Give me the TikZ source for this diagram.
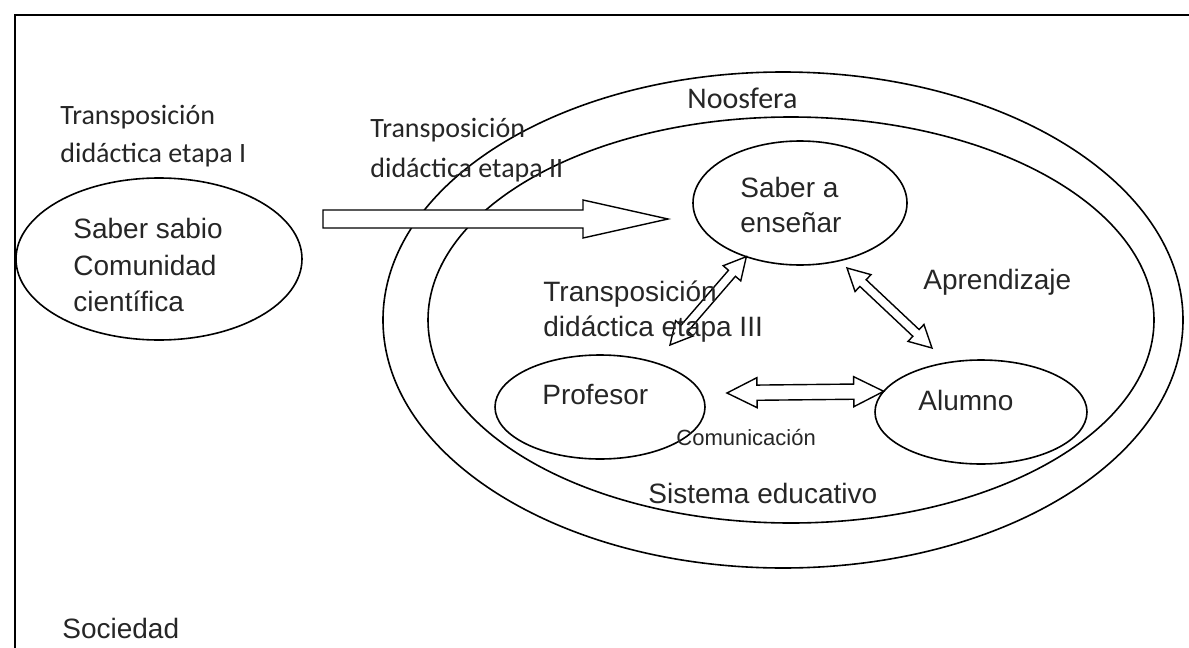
\documentclass[tikz,border=0pt]{standalone}
\usepackage{fontspec}
\setmainfont{Liberation Sans}
\newfontfamily\calibri{Carlito}
\usetikzlibrary{calc,shapes.geometric}
\tikzset{
  oval/.style={draw, ellipse, line width=0.8pt, inner sep=0pt, outer sep=0pt},
  lbl/.style={anchor=west, inner sep=0pt, align=left, text=black!85,
    font=\fontsize{14}{17.5}\selectfont},
  clbl/.style={anchor=west, inner sep=0pt, align=left, text=black!85,
    font=\calibri\fontsize{14}{19}\selectfont},
  blk/.style={draw, line width=0.7pt, line join=miter}
}
% block arrow: tail, tip, half body, half head, head length
\newcommand{\bigarrow}[5]{%
  \coordinate (hb) at ($(#2)!#5!(#1)$);
  \draw[blk, fill=white] ($(#1)!#3!90:(#2)$) -- ($(hb)!#3!90:(#2)$) -- ($(hb)!#4!90:(#2)$)
    -- (#2) -- ($(hb)!#4!-90:(#2)$) -- ($(hb)!#3!-90:(#2)$) -- ($(#1)!#3!-90:(#2)$) -- cycle;}
% two-way block arrow: end, end, half body, half head, head length
\newcommand{\twowayarrow}[5]{%
  \coordinate (ha) at ($(#1)!#5!(#2)$);
  \coordinate (hb) at ($(#2)!#5!(#1)$);
  \draw[blk] (#1) -- ($(ha)!#4!-90:(#1)$) -- ($(ha)!#3!-90:(#1)$) -- ($(hb)!#3!90:(#2)$)
    -- ($(hb)!#4!90:(#2)$) -- (#2) -- ($(hb)!#4!-90:(#2)$) -- ($(hb)!#3!-90:(#2)$)
    -- ($(ha)!#3!90:(#1)$) -- ($(ha)!#4!90:(#1)$) -- cycle;}

\begin{document}
\begin{tikzpicture}[x=0.5pt, y=-0.5pt]
  \useasboundingbox (0,0) rectangle (1189,648);
  \draw[line width=0.8pt] (1189,15) -- (15,15) -- (15,648);

  % noosfera and sistema educativo
  \node[oval, minimum width=800pt/2, minimum height=496pt/2] (noos) at (783,320) {};
  \node[oval, minimum width=726pt/2, minimum height=406pt/2] (sist) at (791,320) {};

  \node[oval, minimum width=143pt, minimum height=81pt] (sabio) at (159,259) {};
  \node[oval, minimum width=107pt, minimum height=62pt] (ense) at (800,203) {};
  \node[oval, minimum width=105pt, minimum height=52pt] (prof) at (600,407) {};
  \node[oval, minimum width=106pt, minimum height=52pt] (alum) at (981,412) {};

  \coordinate (IIa) at (323,219);
  \coordinate (IIb) at (668,219);
  \bigarrow{IIa}{IIb}{4.5pt}{9.5pt}{42.5pt}

  \coordinate (IIIb) at (670,345);
  \twowayarrow{ense.225}{IIIb}{2.3pt}{5.8pt}{11pt}
  \coordinate (apa) at (847,268);
  \coordinate (apb) at (932,348);
  \twowayarrow{apa}{apb}{2.3pt}{5.8pt}{11pt}
  \coordinate (coma) at (727,393);
  \twowayarrow{coma}{alum.168}{3.8pt}{7.5pt}{15pt}

  \node[clbl] (etI) at (60,136) {Transposición\\didáctica etapa I};
  \node[clbl, font=\calibri\fontsize{14}{20}\selectfont] (etII) at (370,150) {Transposición\\didáctica etapa II};
  \node[clbl, font=\calibri\fontsize{15}{18}\selectfont] (noostxt) at (687,98) {Noosfera};
  \node[lbl, font=\fontsize{14}{18.2}\selectfont] (sabiotxt) at (73,265) {Saber sabio\\Comunidad\\científica};
  \node[lbl] (enstxt) at (740,205) {Saber a\\enseñar};
  \node[lbl] (etIII) at (543,312) {Transposición\\didáctica etapa III};
  \node[lbl] (aprtxt) at (923,282) {Aprendizaje};
  \node[lbl] (proftxt) at (542,395) {Profesor};
  \node[lbl] (alumtxt) at (918,400) {Alumno};
  \node[lbl, font=\fontsize{11}{13}\selectfont] (comtxt) at (676,438) {Comunicación};
  \node[lbl] (sisttxt) at (648,493) {Sistema educativo};
  \node[lbl] (soctxt) at (62,628) {Sociedad};
\end{tikzpicture}
\end{document}
